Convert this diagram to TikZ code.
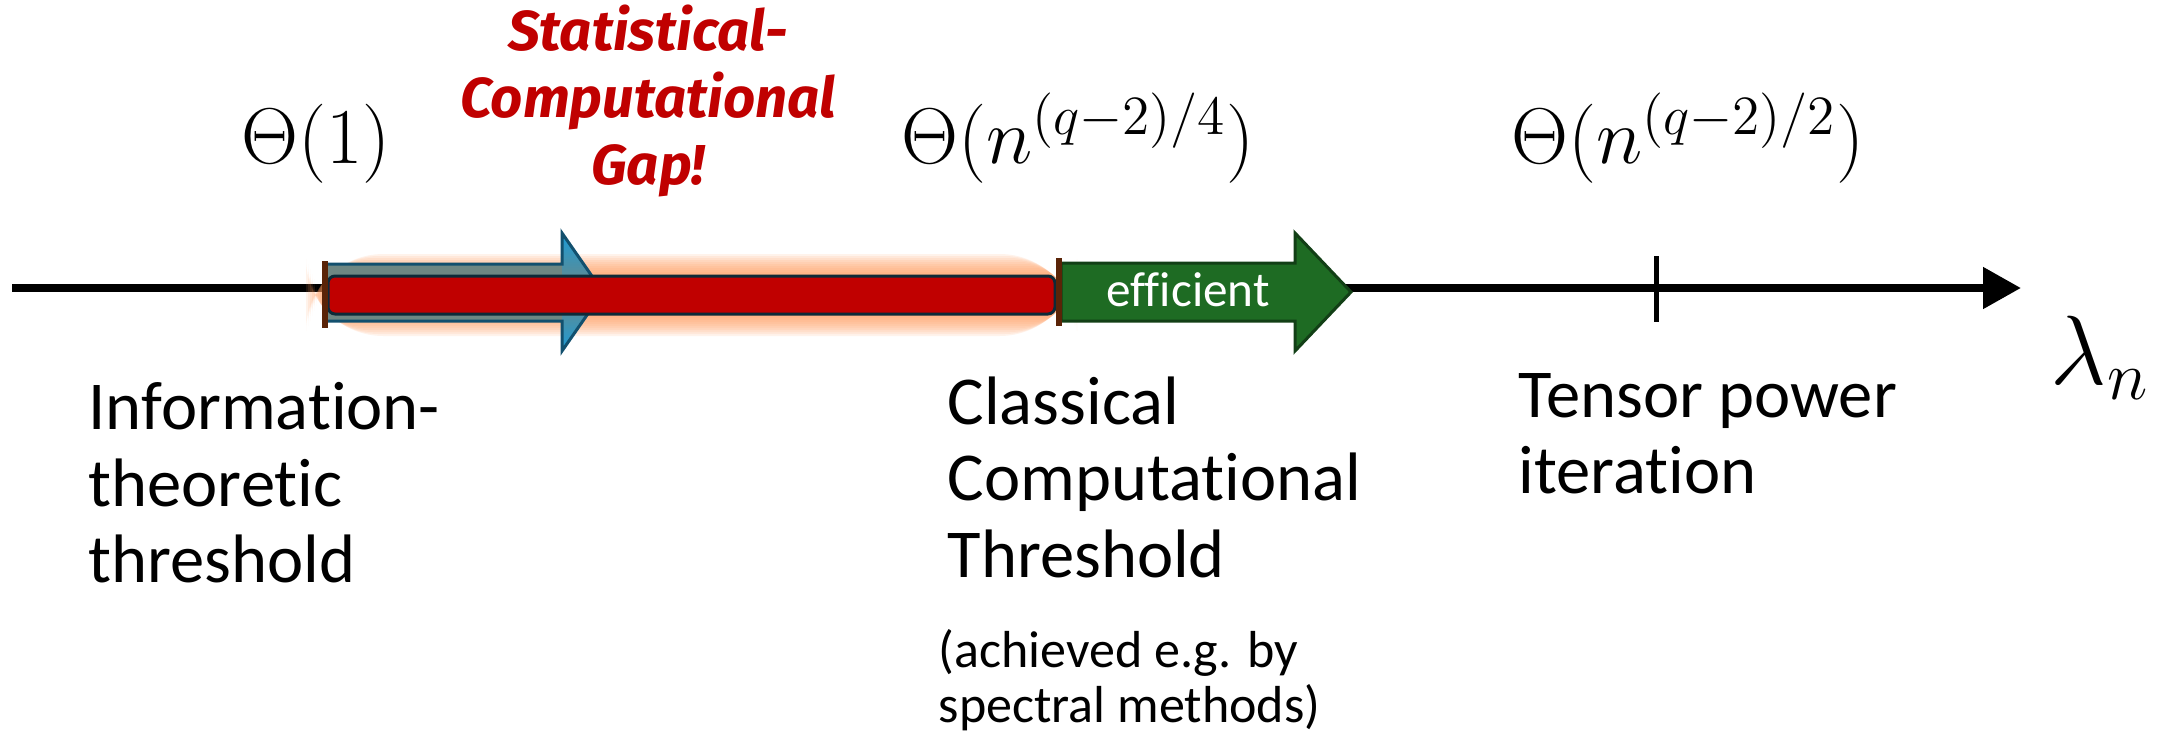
\RequirePackage{fix-cm}
\documentclass[tikz,border=0pt]{standalone}
\usepackage{fontspec}
\setmainfont{Carlito}[Ligatures=NoCommon]
\newfontfamily\gapfont{Fira Sans}
\usepackage{tikz}
\usetikzlibrary{arrows.meta}
\definecolor{ink}{HTML}{000000}
\definecolor{gapRed}{HTML}{C00000}
\definecolor{gapEdge}{HTML}{0D2A38}
\definecolor{glow}{HTML}{FF9A5C}
\definecolor{tickBrown}{HTML}{5A2408}
\definecolor{effGreen}{HTML}{1E6B23}
\definecolor{effEdge}{HTML}{123F16}
\definecolor{slowGray}{HTML}{6E8783}
\definecolor{slowBlue}{HTML}{1C9BD6}
\definecolor{slowEdge}{HTML}{12506E}
\tikzset{
  axis/.style={draw=ink, line width=0.08cm, -{Triangle[length=0.38cm, width=0.4cm]}},
  tickmark/.style={draw=ink, line width=0.05cm},
  gaptick/.style={draw=tickBrown, line width=0.06cm},
  slowarrow/.style={draw=slowEdge, line width=0.03cm, line join=miter},
  gapbar/.style={draw=gapEdge, fill=gapRed, line width=0.03cm, rounded corners=2pt},
  effarrow/.style={draw=effEdge, fill=effGreen, line width=0.03cm},
  t/.style={inner sep=0pt, anchor=base, text=ink, font=\fontsize{19.5}{22}\selectfont},
  tl/.style={t, anchor=base west},
  tsl/.style={tl, font=\fontsize{14.8}{17}\selectfont},
  tm/.style={t, font=\fontsize{22.5}{27}\selectfont},
  tlam/.style={t, anchor=center, font=\fontsize{28}{32}\selectfont},
  tgap/.style={t, text=gapRed, font=\gapfont\bfseries\itshape\fontsize{16}{19}\selectfont},
  teff/.style={t, text=white, font=\fontsize{14}{16}\selectfont},
}
\begin{document}
\begin{tikzpicture}[x=0.01cm, y=-0.01cm]
  \useasboundingbox (0,0) rectangle (2164,736);

  \coordinate (axL) at (12,288);
  \coordinate (axR) at (2021,288);
  \draw[axis] (axL) -- (axR);
  \coordinate (tpTop) at (1656,256);
  \coordinate (tpBot) at (1656,322);
  \draw[tickmark] (tpTop) -- (tpBot);

  % soft glow round the gap
  \foreach \d in {2,4,...,22}
    \fill[glow, opacity=0.12, rounded corners=\d] (328-\d,276-\d) rectangle (1055+\d,314+\d);

  % arrow under the gap
  \fill[slowGray] (325,264) rectangle (562,321);
  \shade[top color=slowBlue, bottom color=slowBlue, middle color=slowGray] (562,233) -- (603,292) -- (562,351) -- cycle;
  \draw[slowarrow] (325,264) -- (562,264) -- (562,233) -- (603,292) -- (562,351) -- (562,321) -- (325,321) -- cycle;

  \filldraw[gapbar] (328,276) rectangle (1055,314);

  \filldraw[effarrow] (1061,263) -- (1295,263) -- (1295,233) -- (1351,292) -- (1295,351) -- (1295,321) -- (1061,321) -- cycle;
  \node[teff] (eff) at (1188,306) {efficient};

  \draw[gaptick] (325,261) -- (325,328);
  \draw[gaptick] (1059,258) -- (1059,326);

  \node[tm] (thIT) at (316,163) {$\Theta(1)$};
  \node[tm] (thCC) at (1078,163) {$\Theta\bigl(n^{(q-2)/4}\bigr)$};
  \node[tm] (thTP) at (1688,163) {$\Theta\bigl(n^{(q-2)/2}\bigr)$};
  \node[tlam] (lam) at (2100,358) {$\lambda_n$};

  \node[tgap] (gapA) at (648,50) {Statistical-};
  \node[tgap] (gapB) at (648,117) {Computational};
  \node[tgap] (gapC) at (648,184) {Gap!};

  \node[tl] (itA) at (88,429) {Information-};
  \node[tl] (itB) at (88,506) {theoretic};
  \node[tl] (itC) at (88,582) {threshold};

  \node[tl] (ccA) at (947,424) {Classical};
  \node[tl] (ccB) at (947,500) {Computational};
  \node[tl] (ccC) at (947,577) {Threshold};
  \node[tsl] (spA) at (938,667) {(achieved e.g. by};
  \node[tsl] (spB) at (938,722) {spectral methods)};

  \node[tl] (tpA) at (1518,417) {Tensor power};
  \node[tl] (tpB) at (1518,493) {iteration};
\end{tikzpicture}
\end{document}
